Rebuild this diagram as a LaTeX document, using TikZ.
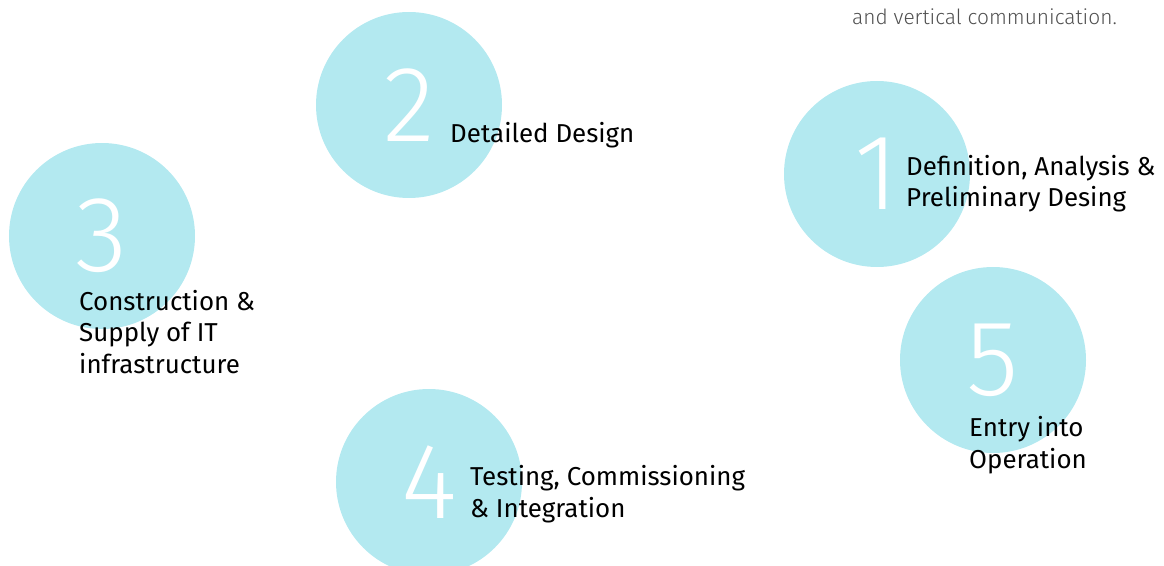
\documentclass[tikz,border=0pt]{standalone}
\usepackage{fontspec}
\setmainfont{Fira Sans}
\newfontfamily\numfont{Fira Sans Light}
\usepackage{xcolor}
\definecolor{phasecyan}{RGB}{179,233,240}
\definecolor{notegrey}{RGB}{80,80,80}
\tikzset{phase/.style={circle,fill=phasecyan,minimum size=186bp,inner sep=0pt,text=white,font=\numfont\fontsize{108}{108}\selectfont},
	phase label/.style={anchor=base west,align=left,inner sep=0pt,font=\fontsize{26}{31.5}\selectfont},
	note label/.style={anchor=base west,inner sep=0pt,text=notegrey,font=\numfont\fontsize{21}{26}\selectfont}}

\begin{document}
\begin{tikzpicture}[x=1bp,y=-1bp]
			\useasboundingbox (0,0) rectangle (1164,566);
			% phase circles
			\node[phase] (c1) at (877,174) {1};
			\node[phase] (c2) at (409,105) {2};
			\node[phase] (c3) at (102,236) {3};
			\node[phase] (c4) at (429,482) {4};
			\node[phase] (c5) at (993,360) {5};

			% labels (placed at the baseline of their last line)
			\node[phase label] (l1) at (906,207) {Definition, Analysis \&\\Preliminary Desing};
			\node[phase label] (l2) at (450,143) {Detailed Design};
			\node[phase label] (l3) at (79,373) {Construction \&\\Supply of IT\\infrastructure};
			\node[phase label] (l4) at (470,517) {Testing, Commissioning\\\& Integration};
			\node[phase label] (l5) at (969,468) {Entry into\\Operation};

			\node[note label] (note) at (852,25) {and vertical communication.};
		\end{tikzpicture}
\end{document}
